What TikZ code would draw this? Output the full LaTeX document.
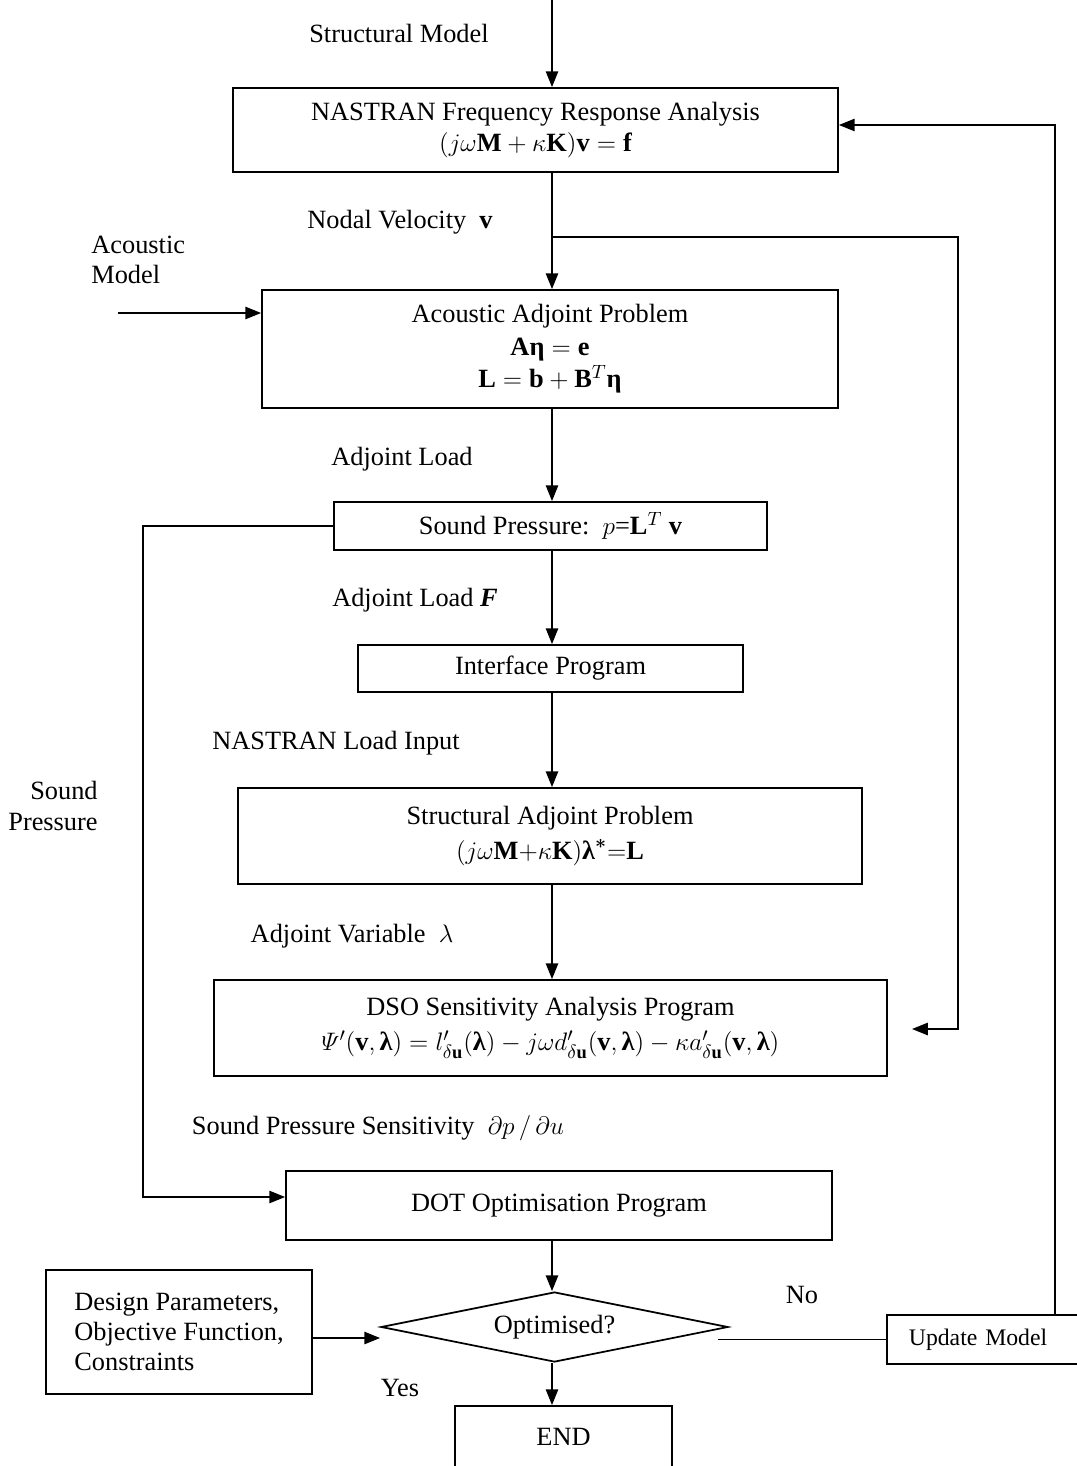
\documentclass[tikz,border=0pt]{standalone}
\usepackage{amsmath,bm}
\usepackage{fontspec}
\setmainfont{Liberation Serif}
\usetikzlibrary{arrows.meta,shapes.geometric}
\newcommand\bEta{\textbf{η}}
\newcommand\bLam{\textbf{λ}}
\tikzset{
  every node/.style={font=\fontsize{15}{20}\selectfont},
  bx/.style 2 args={draw, line width=1pt, minimum width=#1*0.02cm, minimum height=#2*0.02cm, inner sep=0pt, align=center},
  lbl/.style={inner sep=0pt, align=left},
  arr/.style={line width=1pt, -{Triangle[length=9pt,width=7pt]}},
  ln/.style={line width=1pt},
}
\begin{document}
\begin{tikzpicture}[x=0.02cm,y=-0.02cm]
\useasboundingbox (0,0) rectangle (1077,1466);
\clip (0,0) rectangle (1077,1466);
\coordinate (spine) at (552,0);

% boxes
\node[bx={605}{84}] (b1) at (535.5,130) {NASTRAN Frequency Response Analysis\\[-2pt] $(j\omega\mathbf{M} + \kappa\mathbf{K})\mathbf{v} = \mathbf{f}$};
\node[bx={576}{118}, font=\fontsize{15}{18.5}\selectfont] (b2) at (550,349) {Acoustic Adjoint Problem\\ $\mathbf{A}\bEta = \mathbf{e}$\\ $\mathbf{L} = \mathbf{b} + \mathbf{B}^{T}\bEta$};
\node[bx={433}{48}] (b3) at (550.5,526) {Sound Pressure:\ \ $p$=$\mathbf{L}^{T}$ $\mathbf{v}$};
\node[bx={385}{47}] (b4) at (550.5,668.5) {Interface Program};
\node[bx={624}{96}] (b5) at (550,836) {Structural Adjoint Problem\\ $(j\omega\mathbf{M}{+}\kappa\mathbf{K})\bLam^{\bm{*}}{=}\mathbf{L}$};
\node[bx={673}{96}] (b6) at (550.5,1028) {DSO Sensitivity Analysis Program\\ $\varPsi'(\mathbf{v},\bLam) = l'_{\delta\mathbf{u}}(\bLam) - j\omega d'_{\delta\mathbf{u}}(\mathbf{v},\bLam) - \kappa a'_{\delta\mathbf{u}}(\mathbf{v},\bLam)$};
\node[bx={546}{69}] (b7) at (559,1205.5) {DOT Optimisation Program};
\node[draw, diamond, line width=1pt, inner sep=0pt, aspect=4.96, minimum width=347*0.02cm, minimum height=70*0.02cm] (dia) at (554.5,1327) {Optimised?};
\node[bx={266}{124}, align=left, font=\fontsize{15}{17}\selectfont] (des) at (179,1332) {Design Parameters,\\Objective Function,\\Constraints};
\node[draw, line width=1pt, anchor=west, minimum height=49*0.02cm, inner xsep=22*0.02cm, inner ysep=0pt, text width=170*0.02cm, align=left, font=\fontsize{13.5}{16}\selectfont] (upd) at (886,1339.5) {Update Model};
\node[bx={217}{62}] (endb) at (563.5,1437) {END};

% labels
\node[lbl] (lsm) at (399,33) {Structural Model};
\node[lbl] (lnv) at (400,222) {Nodal Velocity\ \ $\mathbf{v}$};
\node[lbl, anchor=west, font=\fontsize{15}{17}\selectfont] (lam) at (91,260) {Acoustic\\Model};
\node[lbl] (lal) at (402,459) {Adjoint Load};
\node[lbl] (lalf) at (415,600) {Adjoint Load \textbf{\textit{F}}};
\node[lbl] (lnli) at (336,743) {NASTRAN Load Input};
\node[lbl, anchor=east, align=right, font=\fontsize{15}{18}\selectfont] (lsp) at (98,806) {Sound\\Pressure};
\node[lbl] (lav) at (352,936) {Adjoint Variable\ \ $\lambda$};
\node[lbl] (lsps) at (378,1128) {Sound Pressure Sensitivity\ \ $\partial p\,/\,\partial u$};
\node[lbl] (lno) at (802,1295) {No};
\node[lbl] (lyes) at (400,1388) {Yes};

% connectors
\coordinate (br) at (552,237);
\coordinate (rt) at (958,237);
\coordinate (dsoin) at (912,1029);
\coordinate (acin) at (118,313);
\coordinate (spl) at (143,1197);
\coordinate (fb) at (1055,0);

\draw[arr] (spine) -- (b1.north -| spine);
\draw[arr] (b1.south -| spine) -- (b2.north -| spine);
\draw[arr] (br) -- (rt) |- (dsoin);
\draw[arr] (acin) -- (acin -| b2.west);
\draw[arr] (b2.south -| spine) -- (b3.north -| spine);
\draw[arr] (b3.west) -| (spl) -- (spl -| b7.west);
\draw[arr] (b3.south -| spine) -- (b4.north -| spine);
\draw[arr] (b4.south -| spine) -- (b5.north -| spine);
\draw[arr] (b5.south -| spine) -- (b6.north -| spine);
\draw[arr] (b7.south -| spine) -- (dia.north -| spine);
\draw[arr] ([yshift=-0.12cm]des.east) -- ([yshift=-0.22cm]dia.west);
\draw[ln] (upd.west) -- ++(-168,0);
\draw[arr] (upd.north -| fb) |- ([yshift=0.1cm]b1.east);
\draw[arr] (dia.south -| spine) -- (endb.north -| spine);
\end{tikzpicture}
\end{document}
